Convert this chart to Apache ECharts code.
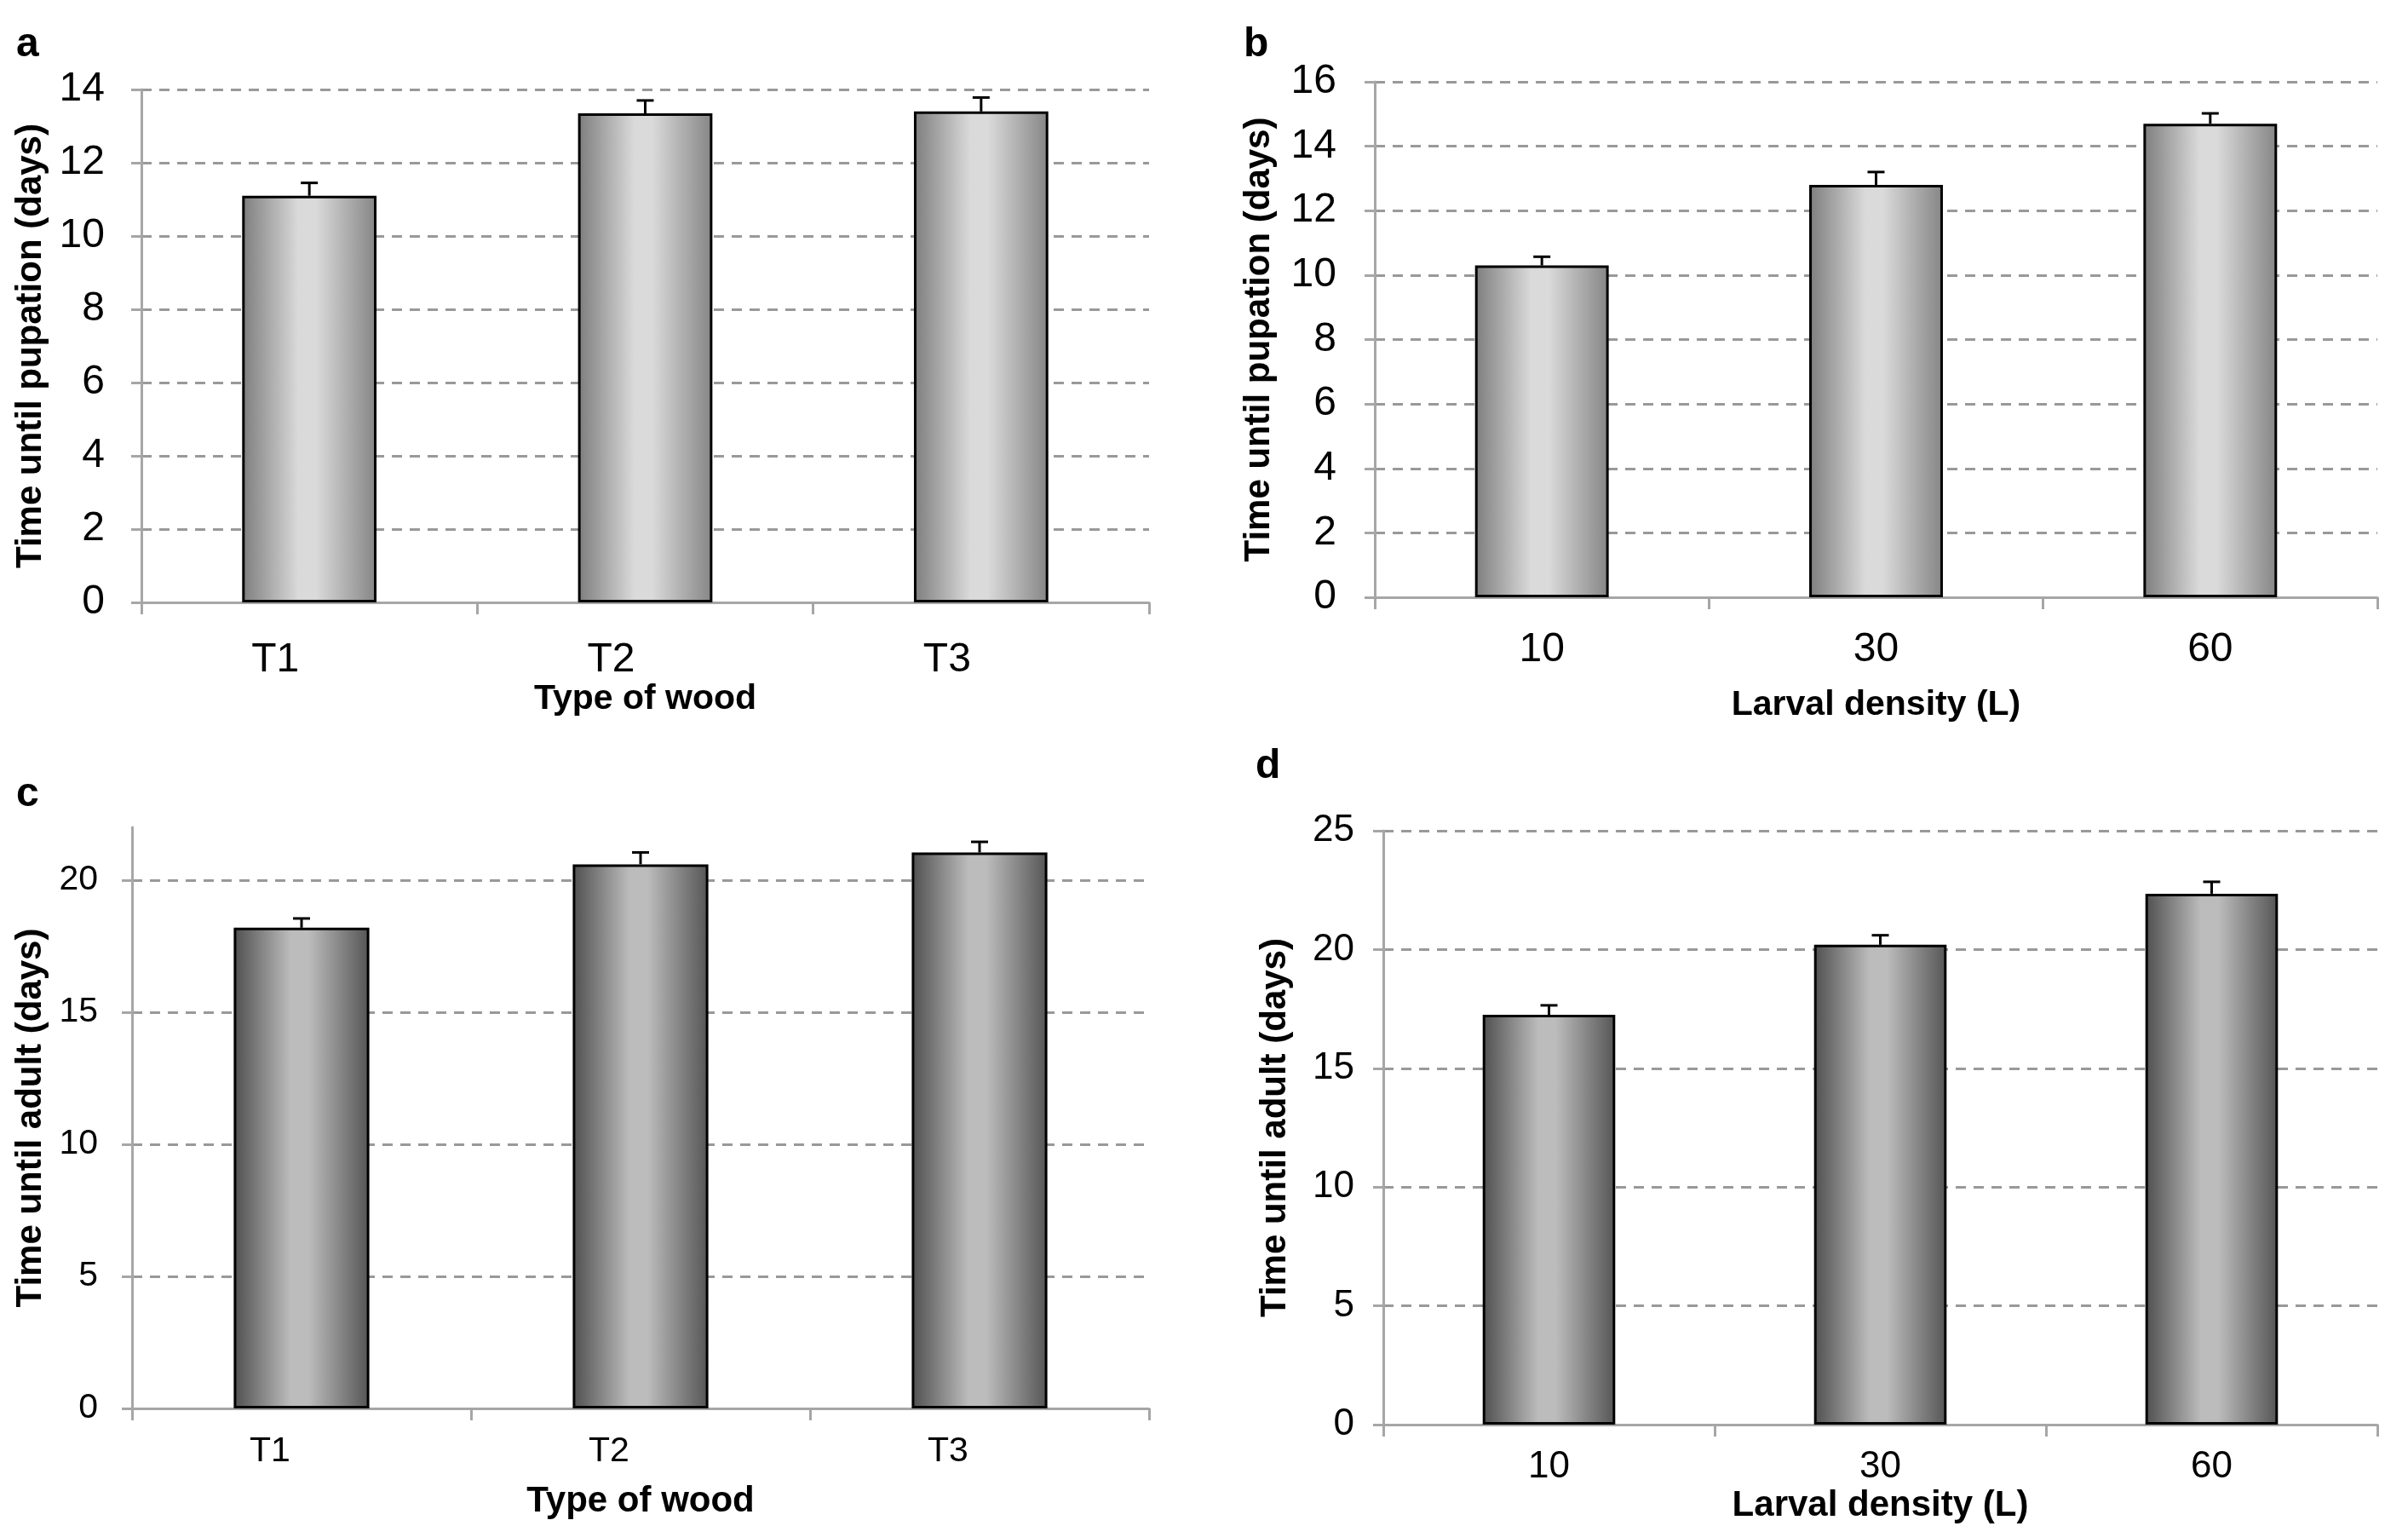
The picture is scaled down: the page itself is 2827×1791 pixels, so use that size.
<!DOCTYPE html>
<html><head><meta charset="utf-8">
<script src="https://cdn.jsdelivr.net/npm/echarts@6/dist/echarts.min.js"></script>
<style>html,body{margin:0;padding:0;background:#fff}#c{width:2827px;height:1791px}</style>
</head><body><div id="c"></div>
<script>
// ---- data ----
const woodCategories = ['T1', 'T2', 'T3'];
const densityCategories = ['10', '30', '60'];
const pupationWood = [11.1, 13.35, 13.4];
const pupationWoodErr = [0.35, 0.35, 0.38];
const pupationDensity = [10.3, 12.8, 14.7];
const pupationDensityErr = [0.27, 0.4, 0.32];
const adultWood = [18.2, 20.6, 21.05];
const adultWoodErr = [0.35, 0.45, 0.4];
const adultDensity = [17.25, 20.2, 22.35];
const adultDensityErr = [0.4, 0.4, 0.5];
const panelLetters = ['a', 'b', 'c', 'd'];
const xNames = ['Type of wood', 'Larval density (L)', 'Type of wood', 'Larval density (L)'];
const yNames = ['Time until pupation (days)', 'Time until pupation (days)', 'Time until adult (days)', 'Time until adult (days)'];

const SANS = '"Liberation Sans", Arial, sans-serif';
const AXIS_GRAY = '#a6a6a6';
const GRID_GRAY = '#999999';

const panels = [
  {cats: woodCategories, vals: pupationWood, errs: pupationWoodErr, max: 14, interval: 2,
   grid: {left: 166, top: 105, width: 1183, height: 602},
   light: true, yFont: 48, xFont: 48, yMargin: 43, xMargin: 44, labelShift: 80,
   xNameFont: 41, xNameGap: 92, yNameGap: 109},
  {cats: densityCategories, vals: pupationDensity, errs: pupationDensityErr, max: 16, interval: 2,
   grid: {left: 1614, top: 96, width: 1177, height: 605},
   light: true, yFont: 48, xFont: 48, yMargin: 45, xMargin: 38, labelShift: 0,
   xNameFont: 41, xNameGap: 106, yNameGap: 115},
  {cats: woodCategories, vals: adultWood, errs: adultWoodErr, max: 22, interval: 5,
   grid: {left: 155, top: 971, width: 1194, height: 682},
   light: false, yFont: 41, xFont: 41, yMargin: 40, xMargin: 30, labelShift: 74,
   xNameFont: 42, xNameGap: 88, yNameGap: 98, customTicks: true},
  {cats: densityCategories, vals: adultDensity, errs: adultDensityErr, max: 25, interval: 5,
   grid: {left: 1624, top: 975, width: 1167, height: 697},
   light: false, yFont: 44, xFont: 44, yMargin: 34, xMargin: 28, labelShift: 0,
   xNameFont: 42, xNameGap: 74, yNameGap: 106}
];
const letterPos = [[32, 56], [1473, 56], [32, 936], [1487, 903]];

function gradient(light) {
  const e = light ? '#7d7d7d' : '#4f4f4f';
  const m = light ? '#dadada' : '#bcbcbc';
  const e2 = light ? '#858585' : '#555555';
  return new echarts.graphic.LinearGradient(0, 0, 1, 0, [
    {offset: 0, color: e}, {offset: 0.42, color: m}, {offset: 0.55, color: m}, {offset: 1, color: e2}
  ]);
}

function errRender(params, api) {
  const x = api.value(0), v = api.value(1), e = api.value(2);
  const base = api.coord([x, v]);
  const top = api.coord([x, v + e]);
  const hw = 10;
  return {type: 'group', children: [
    {type: 'line', shape: {x1: base[0], y1: base[1], x2: top[0], y2: top[1]}, style: {stroke: '#000', lineWidth: 3}},
    {type: 'line', shape: {x1: top[0] - hw, y1: top[1], x2: top[0] + hw, y2: top[1]}, style: {stroke: '#000', lineWidth: 3}}
  ]};
}

const grids = [], xAxes = [], yAxes = [], series = [];
panels.forEach((p, i) => {
  grids.push(Object.assign({containLabel: false}, p.grid));
  xAxes.push({
    type: 'category', gridIndex: i, data: p.cats, boundaryGap: true,
    name: xNames[i], nameLocation: 'middle', nameGap: p.xNameGap,
    nameTextStyle: {fontFamily: SANS, fontWeight: 'bold', fontSize: p.xNameFont, color: '#000', lineHeight: p.xNameFont},
    axisLine: {show: true, lineStyle: {color: AXIS_GRAY, width: 3}},
    axisTick: {show: true, length: 14, alignWithLabel: false, lineStyle: {color: AXIS_GRAY, width: 3}},
    axisLabel: {fontFamily: SANS, fontSize: p.xFont, color: '#000', margin: p.xMargin, lineHeight: p.xFont,
      padding: [0, p.labelShift, 0, 0]},
    splitLine: {show: false}
  });
  const yAx = {
    type: 'value', gridIndex: i, min: 0, max: p.max, interval: p.interval,
    name: yNames[i], nameLocation: 'middle', nameGap: p.yNameGap,
    nameTextStyle: {fontFamily: SANS, fontWeight: 'bold', fontSize: 42, color: '#000', lineHeight: 42},
    axisLine: {show: true, lineStyle: {color: AXIS_GRAY, width: 3}},
    axisTick: {show: true, length: 12, inside: false, lineStyle: {color: AXIS_GRAY, width: 3}},
    axisLabel: {fontFamily: SANS, fontSize: p.yFont, color: '#000', margin: p.yMargin},
    splitLine: {show: true, showMinLine: false,
      lineStyle: {color: GRID_GRAY, width: 3, type: [12, 9]}}
  };
  if (p.customTicks) {
    const vals = [];
    for (let v = 0; v < p.max; v += p.interval) vals.push(v);
    yAx.axisTick.customValues = vals;
    yAx.axisLabel.customValues = vals;
  }
  yAxes.push(yAx);
  series.push({
    type: 'bar', xAxisIndex: i, yAxisIndex: i, data: p.vals, barWidth: '40%',
    itemStyle: {color: gradient(p.light), borderColor: '#000', borderWidth: 3},
    silent: true, animation: false, z: 2
  });
  series.push({
    type: 'custom', xAxisIndex: i, yAxisIndex: i, renderItem: errRender,
    data: p.cats.map((c, k) => [k, p.vals[k], p.errs[k]]),
    encode: {x: 0, y: 1}, silent: true, animation: false, z: 3
  });
});

const graphics = panelLetters.map((t, i) => ({
  type: 'text', left: letterPos[i][0] - 13, top: letterPos[i][1] - 27,
  style: {text: t, font: 'bold 48px "Liberation Sans", Arial, sans-serif', fill: '#000'}
}));

const chart = echarts.init(document.getElementById('c'), null, {renderer: 'canvas'});
chart.setOption({
  backgroundColor: '#fff', animation: false,
  grid: grids, xAxis: xAxes, yAxis: yAxes, series: series, graphic: graphics
});
</script></body></html>
